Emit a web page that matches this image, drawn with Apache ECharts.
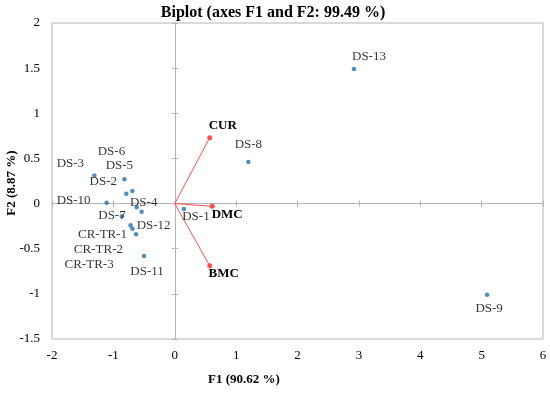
<!DOCTYPE html>
<html><head><meta charset="utf-8">
<script src="https://cdn.jsdelivr.net/npm/echarts@6/dist/echarts.min.js"></script>
<style>html,body{margin:0;padding:0;background:#fff}#c{width:550px;height:394px}</style>
</head><body><div id="c"></div>
<script>
// Observations
const obsNames = ['DS-1','DS-2','DS-3','DS-4','DS-5','DS-6','DS-7','DS-8','DS-9','DS-10','DS-11','DS-12','DS-13','CR-TR-1','CR-TR-2','CR-TR-3'];
const obsF1 = [0.15,-0.79,-1.31,-0.62,-0.69,-0.82,-0.86,1.20,5.09,-1.11,-0.50,-0.54,2.92,-0.72,-0.69,-0.63];
const obsF2 = [-0.06,0.11,0.31,-0.04,0.14,0.27,-0.14,0.46,-1.01,0.01,-0.58,-0.09,1.49,-0.24,-0.28,-0.34];
// Variables (vectors)
const varNames = ['CUR','DMC','BMC'];
const varF1 = [0.57,0.61,0.57];
const varF2 = [0.73,-0.03,-0.69];
// Axis ticks
const xTicks = {min:-2,max:6,step:1};
const yTicks = {min:-1.5,max:2,step:0.5};
const titleText = 'Biplot (axes F1 and F2: 99.49 %)';
const xName = 'F1 (90.62 %)';
const yName = 'F2 (8.87 %)';

// label layout (pixel offsets of label centre from point)
const obsLabelOffsets = [[12,8],[-23,-12],[-24,-12],[7,-5],[-13,-25],[-13,-28],[-10,-1],[0,-17],[2,14],[-33,-2],[3,16],[12,14],[15,-12],[-28,9],[-34,21],[-47,30]];
const varLabelOffsets = [[13,-12],[15,8],[14,8]];

const FONT = '"Liberation Serif","Times New Roman",serif';
const GRAY = '#b4b4b4';
const BLUE = '#2671ad';
const RED = '#ff4d4d';

const baseX = {type:'value', min:xTicks.min, max:xTicks.max, interval:xTicks.step, splitLine:{show:false}};
const baseY = {type:'value', min:yTicks.min, max:yTicks.max, interval:yTicks.step, splitLine:{show:false}};

const series = [];
series.push({
  type:'scatter', xAxisIndex:0, yAxisIndex:0, symbolSize:4.5, itemStyle:{color:BLUE},
  data: obsNames.map((n,i)=>({value:[obsF1[i],obsF2[i]], name:n,
    label:{show:true, position:'inside', offset:obsLabelOffsets[i], formatter:n, color:'#000', fontFamily:FONT, fontSize:13}})),
  z:5
});
varNames.forEach((n,i)=>{
  series.push({
    type:'line', xAxisIndex:0, yAxisIndex:0, lineStyle:{color:RED,width:1}, itemStyle:{color:RED},
    symbolSize:5, animation:false,
    data:[{value:[0,0], symbol:'none'},
          {value:[varF1[i],varF2[i]], symbol:'circle',
           label:{show:true, position:'inside', offset:varLabelOffsets[i], formatter:n, color:'#000', fontFamily:FONT, fontSize:13, fontWeight:'bold'}}],
    z:4
  });
});

const chart = echarts.init(document.getElementById('c'), null, {renderer:'canvas'});
chart.setOption({
  animation:false,
  backgroundColor:'#fff',
  grid:{left:52, right:7, top:23, bottom:55, show:true, borderColor:GRAY, borderWidth:1},
  xAxis:[
    Object.assign({}, baseX, {position:'bottom', axisLine:{show:false,onZero:false}, axisTick:{show:false},
      axisLabel:{color:'#000', fontFamily:FONT, fontSize:13, margin:10}}),
    Object.assign({}, baseX, {axisLine:{show:true,onZero:true,onZeroAxisIndex:0,lineStyle:{color:GRAY}}, axisTick:{show:true,length:3,lineStyle:{color:GRAY}}, axisLabel:{show:false}}),
    Object.assign({}, baseX, {axisLine:{show:false,onZero:true,onZeroAxisIndex:0}, axisTick:{show:true,inside:true,length:3,lineStyle:{color:GRAY}}, axisLabel:{show:false}})
  ],
  yAxis:[
    Object.assign({}, baseY, {position:'left', axisLine:{show:false,onZero:false}, axisTick:{show:false},
      axisLabel:{color:'#000', fontFamily:FONT, fontSize:13, margin:12}}),
    Object.assign({}, baseY, {axisLine:{show:true,onZero:true,onZeroAxisIndex:0,lineStyle:{color:GRAY}}, axisTick:{show:true,length:3,lineStyle:{color:GRAY}}, axisLabel:{show:false}}),
    Object.assign({}, baseY, {axisLine:{show:false,onZero:true,onZeroAxisIndex:0}, axisTick:{show:true,inside:true,length:3,lineStyle:{color:GRAY}}, axisLabel:{show:false}})
  ],
  graphic:[
    {type:'text', x:273, y:13, style:{text:titleText, align:'center', verticalAlign:'middle', fontFamily:FONT, fontSize:16, fontWeight:'bold', fill:'#000'}},
    {type:'text', x:244, y:380, style:{text:xName, align:'center', verticalAlign:'middle', fontFamily:FONT, fontSize:13, fontWeight:'bold', fill:'#000'}},
    {type:'text', x:12, y:183, rotation:Math.PI/2, style:{text:yName, align:'center', verticalAlign:'middle', fontFamily:FONT, fontSize:13, fontWeight:'bold', fill:'#000'}}
  ],
  series: series
});
</script></body></html>
